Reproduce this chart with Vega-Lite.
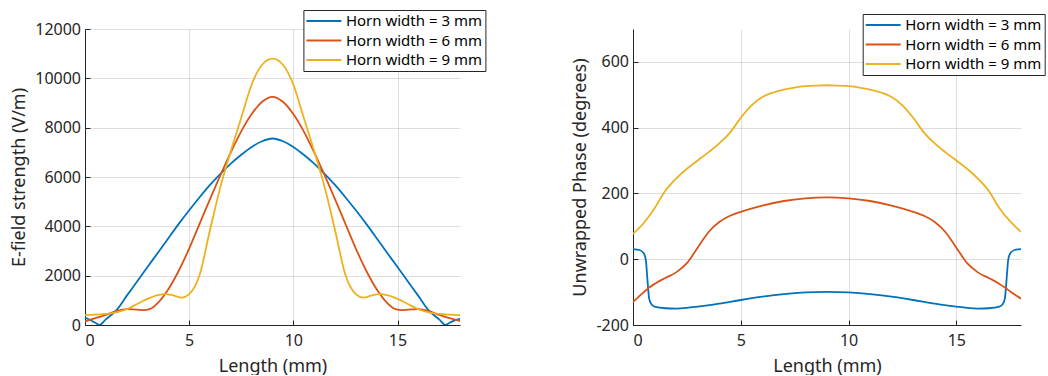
{
  "$schema": "https://vega.github.io/schema/vega-lite/v6.json",
  "padding": {"left": 10, "top": 9, "right": 0, "bottom": 0},
  "autosize": {"type": "pad"},
  "bounds": "flush",
  "spacing": 173,
  "resolve": {"legend": {"color": "independent"}},
  "config": {
    "font": "Noto Sans",
    "view": {"stroke": null},
    "axis": {
      "domainColor": "#262626", "tickColor": "#262626", "labelColor": "#262626", "titleColor": "#262626",
      "gridColor": "#262626", "gridOpacity": 0.15, "labelFontSize": 16, "titleFontSize": 18,
      "titleFontWeight": "normal", "tickSize": -5
    },
    "axisX": {"labelPadding": 12, "titlePadding": 9},
    "axisY": {"labelPadding": 9.5, "titlePadding": 6},
    "legend": {
      "title": null, "symbolType": "M-2.5,0H2.5", "symbolSize": 196, "symbolStrokeWidth": 2,
      "symbolOffset": 9.5, "labelOffset": 14, "labelFontSize": 15, "labelColor": "#000",
      "strokeColor": "#262626", "fillColor": "white", "padding": 3, "rowPadding": 3.5
    }
  },
  "datasets": {
    "ef": [
      {"x":0,"s":"Horn width = 3 mm","v":300},{"x":0.25,"s":"Horn width = 3 mm","v":200},{"x":0.5,"s":"Horn width = 3 mm","v":90},{"x":0.7,"s":"Horn width = 3 mm","v":0},{"x":1,"s":"Horn width = 3 mm","v":230},{"x":1.5,"s":"Horn width = 3 mm","v":590},{"x":2,"s":"Horn width = 3 mm","v":1180},{"x":2.5,"s":"Horn width = 3 mm","v":1760},{"x":3,"s":"Horn width = 3 mm","v":2350},{"x":3.5,"s":"Horn width = 3 mm","v":2930},{"x":4,"s":"Horn width = 3 mm","v":3520},{"x":4.5,"s":"Horn width = 3 mm","v":4100},{"x":5,"s":"Horn width = 3 mm","v":4650},{"x":5.5,"s":"Horn width = 3 mm","v":5180},{"x":6,"s":"Horn width = 3 mm","v":5680},{"x":6.5,"s":"Horn width = 3 mm","v":6130},{"x":7,"s":"Horn width = 3 mm","v":6540},{"x":7.5,"s":"Horn width = 3 mm","v":6900},{"x":8,"s":"Horn width = 3 mm","v":7220},{"x":8.5,"s":"Horn width = 3 mm","v":7450},{"x":9,"s":"Horn width = 3 mm","v":7560},
      {"x":9.5,"s":"Horn width = 3 mm","v":7450},{"x":10,"s":"Horn width = 3 mm","v":7220},{"x":10.5,"s":"Horn width = 3 mm","v":6900},{"x":11,"s":"Horn width = 3 mm","v":6540},{"x":11.5,"s":"Horn width = 3 mm","v":6130},{"x":12,"s":"Horn width = 3 mm","v":5680},{"x":12.5,"s":"Horn width = 3 mm","v":5180},{"x":13,"s":"Horn width = 3 mm","v":4650},{"x":13.5,"s":"Horn width = 3 mm","v":4100},{"x":14,"s":"Horn width = 3 mm","v":3520},{"x":14.5,"s":"Horn width = 3 mm","v":2930},{"x":15,"s":"Horn width = 3 mm","v":2350},{"x":15.5,"s":"Horn width = 3 mm","v":1760},{"x":16,"s":"Horn width = 3 mm","v":1180},{"x":16.5,"s":"Horn width = 3 mm","v":590},{"x":17,"s":"Horn width = 3 mm","v":230},{"x":17.3,"s":"Horn width = 3 mm","v":0},{"x":17.5,"s":"Horn width = 3 mm","v":90},{"x":17.75,"s":"Horn width = 3 mm","v":190},{"x":18,"s":"Horn width = 3 mm","v":250},
      {"x":0,"s":"Horn width = 6 mm","v":150},{"x":0.5,"s":"Horn width = 6 mm","v":280},{"x":1,"s":"Horn width = 6 mm","v":410},{"x":1.5,"s":"Horn width = 6 mm","v":560},{"x":2,"s":"Horn width = 6 mm","v":640},{"x":2.5,"s":"Horn width = 6 mm","v":625},{"x":2.8,"s":"Horn width = 6 mm","v":600},{"x":3.1,"s":"Horn width = 6 mm","v":640},{"x":3.5,"s":"Horn width = 6 mm","v":900},{"x":4,"s":"Horn width = 6 mm","v":1450},{"x":4.5,"s":"Horn width = 6 mm","v":2200},{"x":5,"s":"Horn width = 6 mm","v":3100},{"x":5.5,"s":"Horn width = 6 mm","v":4100},{"x":6,"s":"Horn width = 6 mm","v":5100},{"x":6.5,"s":"Horn width = 6 mm","v":6080},{"x":7,"s":"Horn width = 6 mm","v":7000},{"x":7.5,"s":"Horn width = 6 mm","v":7850},{"x":8,"s":"Horn width = 6 mm","v":8550},{"x":8.5,"s":"Horn width = 6 mm","v":9050},{"x":9,"s":"Horn width = 6 mm","v":9250},
      {"x":9.5,"s":"Horn width = 6 mm","v":9050},{"x":10,"s":"Horn width = 6 mm","v":8550},{"x":10.5,"s":"Horn width = 6 mm","v":7850},{"x":11,"s":"Horn width = 6 mm","v":7000},{"x":11.5,"s":"Horn width = 6 mm","v":6080},{"x":12,"s":"Horn width = 6 mm","v":5100},{"x":12.5,"s":"Horn width = 6 mm","v":4100},{"x":13,"s":"Horn width = 6 mm","v":3100},{"x":13.5,"s":"Horn width = 6 mm","v":2200},{"x":14,"s":"Horn width = 6 mm","v":1450},{"x":14.5,"s":"Horn width = 6 mm","v":900},{"x":14.9,"s":"Horn width = 6 mm","v":640},{"x":15.2,"s":"Horn width = 6 mm","v":600},{"x":15.5,"s":"Horn width = 6 mm","v":625},{"x":16,"s":"Horn width = 6 mm","v":640},{"x":16.5,"s":"Horn width = 6 mm","v":560},{"x":17,"s":"Horn width = 6 mm","v":410},{"x":17.5,"s":"Horn width = 6 mm","v":280},{"x":18,"s":"Horn width = 6 mm","v":170},
      {"x":0,"s":"Horn width = 9 mm","v":400},{"x":0.5,"s":"Horn width = 9 mm","v":420},{"x":1,"s":"Horn width = 9 mm","v":450},{"x":1.5,"s":"Horn width = 9 mm","v":510},{"x":2,"s":"Horn width = 9 mm","v":640},{"x":2.5,"s":"Horn width = 9 mm","v":850},{"x":3,"s":"Horn width = 9 mm","v":1060},{"x":3.5,"s":"Horn width = 9 mm","v":1210},{"x":3.8,"s":"Horn width = 9 mm","v":1250},{"x":4.2,"s":"Horn width = 9 mm","v":1210},{"x":4.65,"s":"Horn width = 9 mm","v":1110},{"x":5,"s":"Horn width = 9 mm","v":1250},{"x":5.5,"s":"Horn width = 9 mm","v":2030},{"x":6,"s":"Horn width = 9 mm","v":3850},{"x":6.5,"s":"Horn width = 9 mm","v":5600},{"x":7,"s":"Horn width = 9 mm","v":7050},{"x":7.5,"s":"Horn width = 9 mm","v":8400},{"x":8,"s":"Horn width = 9 mm","v":9750},{"x":8.5,"s":"Horn width = 9 mm","v":10550},{"x":9,"s":"Horn width = 9 mm","v":10800},
      {"x":9.5,"s":"Horn width = 9 mm","v":10550},{"x":10,"s":"Horn width = 9 mm","v":9750},{"x":10.5,"s":"Horn width = 9 mm","v":8400},{"x":11,"s":"Horn width = 9 mm","v":7050},{"x":11.5,"s":"Horn width = 9 mm","v":5600},{"x":12,"s":"Horn width = 9 mm","v":3850},{"x":12.5,"s":"Horn width = 9 mm","v":2030},{"x":13,"s":"Horn width = 9 mm","v":1250},{"x":13.35,"s":"Horn width = 9 mm","v":1110},{"x":13.8,"s":"Horn width = 9 mm","v":1210},{"x":14.2,"s":"Horn width = 9 mm","v":1250},{"x":14.5,"s":"Horn width = 9 mm","v":1210},{"x":15,"s":"Horn width = 9 mm","v":1060},{"x":15.5,"s":"Horn width = 9 mm","v":850},{"x":16,"s":"Horn width = 9 mm","v":640},{"x":16.5,"s":"Horn width = 9 mm","v":510},{"x":17,"s":"Horn width = 9 mm","v":450},{"x":17.5,"s":"Horn width = 9 mm","v":420},{"x":18,"s":"Horn width = 9 mm","v":400}
    ],
    "ph": [
      {"x":0,"s":"Horn width = 3 mm","v":31},{"x":0.3,"s":"Horn width = 3 mm","v":28},{"x":0.5,"s":"Horn width = 3 mm","v":18},{"x":0.6,"s":"Horn width = 3 mm","v":-5},{"x":0.65,"s":"Horn width = 3 mm","v":-45},{"x":0.7,"s":"Horn width = 3 mm","v":-88},{"x":0.75,"s":"Horn width = 3 mm","v":-120},{"x":0.85,"s":"Horn width = 3 mm","v":-137},{"x":1,"s":"Horn width = 3 mm","v":-144},{"x":1.5,"s":"Horn width = 3 mm","v":-149},{"x":2,"s":"Horn width = 3 mm","v":-150},{"x":2.5,"s":"Horn width = 3 mm","v":-148},{"x":3,"s":"Horn width = 3 mm","v":-144},{"x":4,"s":"Horn width = 3 mm","v":-135},{"x":5,"s":"Horn width = 3 mm","v":-124},{"x":6,"s":"Horn width = 3 mm","v":-114},{"x":7,"s":"Horn width = 3 mm","v":-106},{"x":8,"s":"Horn width = 3 mm","v":-101},{"x":9,"s":"Horn width = 3 mm","v":-99},
      {"x":10,"s":"Horn width = 3 mm","v":-101},{"x":11,"s":"Horn width = 3 mm","v":-106},{"x":12,"s":"Horn width = 3 mm","v":-114},{"x":13,"s":"Horn width = 3 mm","v":-124},{"x":14,"s":"Horn width = 3 mm","v":-135},{"x":15,"s":"Horn width = 3 mm","v":-144},{"x":15.5,"s":"Horn width = 3 mm","v":-148},{"x":16,"s":"Horn width = 3 mm","v":-150},{"x":16.5,"s":"Horn width = 3 mm","v":-149},{"x":17,"s":"Horn width = 3 mm","v":-144},{"x":17.15,"s":"Horn width = 3 mm","v":-137},{"x":17.25,"s":"Horn width = 3 mm","v":-120},{"x":17.3,"s":"Horn width = 3 mm","v":-88},{"x":17.35,"s":"Horn width = 3 mm","v":-45},{"x":17.4,"s":"Horn width = 3 mm","v":-5},{"x":17.5,"s":"Horn width = 3 mm","v":18},{"x":17.7,"s":"Horn width = 3 mm","v":28},{"x":18,"s":"Horn width = 3 mm","v":31},
      {"x":0,"s":"Horn width = 6 mm","v":-130},{"x":0.5,"s":"Horn width = 6 mm","v":-100},{"x":0.75,"s":"Horn width = 6 mm","v":-86},{"x":1,"s":"Horn width = 6 mm","v":-75},{"x":1.5,"s":"Horn width = 6 mm","v":-57},{"x":2,"s":"Horn width = 6 mm","v":-40},{"x":2.5,"s":"Horn width = 6 mm","v":-12},{"x":3,"s":"Horn width = 6 mm","v":35},{"x":3.5,"s":"Horn width = 6 mm","v":82},{"x":4,"s":"Horn width = 6 mm","v":113},{"x":4.5,"s":"Horn width = 6 mm","v":132},{"x":5,"s":"Horn width = 6 mm","v":144},{"x":6,"s":"Horn width = 6 mm","v":163},{"x":7,"s":"Horn width = 6 mm","v":177},{"x":8,"s":"Horn width = 6 mm","v":185},{"x":9,"s":"Horn width = 6 mm","v":188},
      {"x":10,"s":"Horn width = 6 mm","v":185},{"x":11,"s":"Horn width = 6 mm","v":177},{"x":12,"s":"Horn width = 6 mm","v":163},{"x":13,"s":"Horn width = 6 mm","v":144},{"x":13.5,"s":"Horn width = 6 mm","v":132},{"x":14,"s":"Horn width = 6 mm","v":113},{"x":14.5,"s":"Horn width = 6 mm","v":82},{"x":15,"s":"Horn width = 6 mm","v":35},{"x":15.5,"s":"Horn width = 6 mm","v":-12},{"x":16,"s":"Horn width = 6 mm","v":-40},{"x":16.5,"s":"Horn width = 6 mm","v":-57},{"x":17,"s":"Horn width = 6 mm","v":-75},{"x":17.25,"s":"Horn width = 6 mm","v":-86},{"x":17.5,"s":"Horn width = 6 mm","v":-98},{"x":18,"s":"Horn width = 6 mm","v":-120},
      {"x":0,"s":"Horn width = 9 mm","v":77},{"x":0.5,"s":"Horn width = 9 mm","v":110},{"x":1,"s":"Horn width = 9 mm","v":155},{"x":1.5,"s":"Horn width = 9 mm","v":208},{"x":2,"s":"Horn width = 9 mm","v":245},{"x":2.5,"s":"Horn width = 9 mm","v":275},{"x":3,"s":"Horn width = 9 mm","v":300},{"x":3.5,"s":"Horn width = 9 mm","v":325},{"x":4,"s":"Horn width = 9 mm","v":352},{"x":4.5,"s":"Horn width = 9 mm","v":385},{"x":5,"s":"Horn width = 9 mm","v":430},{"x":5.5,"s":"Horn width = 9 mm","v":468},{"x":6,"s":"Horn width = 9 mm","v":493},{"x":6.5,"s":"Horn width = 9 mm","v":507},{"x":7,"s":"Horn width = 9 mm","v":516},{"x":7.5,"s":"Horn width = 9 mm","v":522},{"x":8,"s":"Horn width = 9 mm","v":526},{"x":8.5,"s":"Horn width = 9 mm","v":528},{"x":9,"s":"Horn width = 9 mm","v":529},
      {"x":9.5,"s":"Horn width = 9 mm","v":528},{"x":10,"s":"Horn width = 9 mm","v":526},{"x":10.5,"s":"Horn width = 9 mm","v":522},{"x":11,"s":"Horn width = 9 mm","v":516},{"x":11.5,"s":"Horn width = 9 mm","v":507},{"x":12,"s":"Horn width = 9 mm","v":493},{"x":12.5,"s":"Horn width = 9 mm","v":468},{"x":13,"s":"Horn width = 9 mm","v":430},{"x":13.5,"s":"Horn width = 9 mm","v":385},{"x":14,"s":"Horn width = 9 mm","v":352},{"x":14.5,"s":"Horn width = 9 mm","v":325},{"x":15,"s":"Horn width = 9 mm","v":300},{"x":15.5,"s":"Horn width = 9 mm","v":275},{"x":16,"s":"Horn width = 9 mm","v":245},{"x":16.5,"s":"Horn width = 9 mm","v":208},{"x":17,"s":"Horn width = 9 mm","v":155},{"x":17.5,"s":"Horn width = 9 mm","v":115},{"x":18,"s":"Horn width = 9 mm","v":83}
    ]
  },
  "hconcat": [
    {
      "width": 375, "height": 296,
      "data": {"name": "ef"},
      "mark": {"type": "line", "interpolate": "monotone", "strokeWidth": 1.8, "clip": true},
      "encoding": {
        "x": {"field": "x", "type": "quantitative", "scale": {"domain": [0, 18], "nice": false},
              "axis": {"values": [0, 5, 10, 15], "title": "Length (mm)"}},
        "y": {"field": "v", "type": "quantitative", "scale": {"domain": [0, 12000], "nice": false},
              "axis": {"values": [0, 2000, 4000, 6000, 8000, 10000, 12000], "format": "d", "title": "E-field strength (V/m)"}},
        "color": {"field": "s", "type": "nominal",
                  "scale": {"domain": ["Horn width = 3 mm", "Horn width = 6 mm", "Horn width = 9 mm"], "range": ["#0072BD", "#D95319", "#EDB120"]},
                  "legend": {"orient": "none", "legendX": 218.4, "legendY": -19, "labelExpr": "datum.label + '\u00a0\u00a0'"}}
      }
    },
    {
      "width": 388, "height": 296,
      "data": {"name": "ph"},
      "mark": {"type": "line", "interpolate": "monotone", "strokeWidth": 1.8, "clip": true},
      "encoding": {
        "x": {"field": "x", "type": "quantitative", "scale": {"domain": [0, 18], "nice": false},
              "axis": {"values": [0, 5, 10, 15], "title": "Length (mm)"}},
        "y": {"field": "v", "type": "quantitative", "scale": {"domain": [-200, 700], "nice": false},
              "axis": {"values": [-200, 0, 200, 400, 600], "labelExpr": "datum.value < 0 ? '-' + abs(datum.value) : '' + datum.value", "title": "Unwrapped Phase (degrees)"}},
        "color": {"field": "s", "type": "nominal",
                  "scale": {"domain": ["Horn width = 3 mm", "Horn width = 6 mm", "Horn width = 9 mm"], "range": ["#0072BD", "#D95319", "#EDB120"]},
                  "legend": {"orient": "none", "legendX": 229.7, "legendY": -15, "labelExpr": "datum.label + '\u00a0\u00a0'"}}
      }
    }
  ]
}
